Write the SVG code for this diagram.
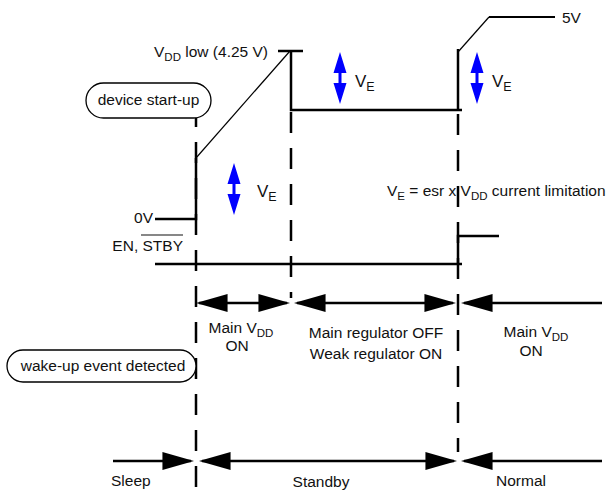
<svg xmlns="http://www.w3.org/2000/svg" width="613" height="493" viewBox="0 0 613 493">
<style>
text{font-family:"Liberation Sans",Arial,sans-serif;font-size:15.5px;fill:#111}
.sub{font-size:11.5px}
.ve{font-size:17px}
.ve .sub{font-size:12.5px}
.thick{stroke:#000;stroke-width:2.5;fill:none}
.thin{stroke:#000;stroke-width:1.2;fill:none}
.dash{stroke:#000;stroke-width:2.5;fill:none;stroke-dasharray:21 15}
.arr{stroke:#000;stroke-width:2.5;fill:none}
.bubble{fill:#fff;stroke:#000;stroke-width:1.3}
.blue{fill:#0000ff}
</style>
<defs>
<marker id="head" markerUnits="userSpaceOnUse" markerWidth="32" markerHeight="18" viewBox="0 0 30 17" refX="27" refY="8.5" orient="auto-start-reverse">
<path d="M0,0 L30,8.5 L0,17 z" fill="#000"/>
</marker>
<path id="ve-arrow" d="M0,0 L6.5,21 L1.5,21 L1.5,31 L6.5,31 L0,52 L-6.5,31 L-1.5,31 L-1.5,21 L-6.5,21 z"/>
</defs>
<rect width="613" height="493" fill="#fff"/>

<g id="dashed-markers">
<line class="dash" x1="196" y1="106" x2="196" y2="487"/>
<line class="dash" x1="291" y1="112" x2="291" y2="298"/>
<line class="dash" x1="458" y1="114" x2="458" y2="452"/>
</g>

<g id="vdd-waveform">
<polyline class="thick" points="155,219 196,219 196,158"/>
<line class="thin" x1="196" y1="158" x2="290" y2="51"/>
<line class="thick" x1="278" y1="51" x2="303" y2="51"/>
<polyline class="thick" points="291,51 291,110 462,110"/>
<line class="thick" x1="458" y1="110" x2="458" y2="49"/>
<line class="thin" x1="458" y1="52" x2="489" y2="17"/>
<line class="thick" x1="489" y1="17" x2="555" y2="17" style="stroke-width:2"/>
</g>

<g id="en-waveform">
<line class="thick" x1="155" y1="264" x2="462" y2="264"/>
<polyline class="thick" points="458,264 458,236 499,236"/>
</g>

<g id="ve-arrows" class="blue">
<use href="#ve-arrow" x="340" y="52"/>
<use href="#ve-arrow" x="477" y="52"/>
<use href="#ve-arrow" x="234" y="163"/>
</g>

<g id="connectors">
<line class="arr" x1="199" y1="303" x2="287" y2="303" marker-start="url(#head)" marker-end="url(#head)"/>
<line class="arr" x1="297" y1="303" x2="453" y2="303" marker-start="url(#head)" marker-end="url(#head)"/>
<line class="arr" x1="464" y1="303" x2="602" y2="303" marker-start="url(#head)"/>
<line class="arr" x1="113" y1="461" x2="191" y2="461" marker-end="url(#head)"/>
<line class="arr" x1="202" y1="461" x2="454" y2="461" marker-start="url(#head)" marker-end="url(#head)"/>
<line class="arr" x1="464" y1="461" x2="602" y2="461" marker-start="url(#head)"/>
</g>

<g id="device-start-up">
<rect class="bubble" x="86" y="83" width="125" height="35" rx="17.5"/>
<text x="148.5" y="105" text-anchor="middle">device start-up</text>
</g>

<g id="wake-up-event">
<rect class="bubble" x="7" y="350" width="189" height="32" rx="16"/>
<text x="103" y="371" text-anchor="middle">wake-up event detected</text>
</g>

<g id="labels">
<text x="268" y="57" text-anchor="end">V<tspan class="sub" dy="4">DD</tspan><tspan dy="-4"> low (4.25 V)</tspan></text>
<text x="562" y="23">5V</text>
<text class="ve" x="355" y="87">V<tspan class="sub" dy="4">E</tspan></text>
<text class="ve" x="492" y="87">V<tspan class="sub" dy="4">E</tspan></text>
<text class="ve" x="257" y="197">V<tspan class="sub" dy="4">E</tspan></text>
<text x="387" y="196">V<tspan class="sub" dy="4">E</tspan><tspan dy="-4"> = esr x V</tspan><tspan class="sub" dy="4">DD</tspan><tspan dy="-4"> current limitation</tspan></text>
<text x="153" y="223" text-anchor="end">0V</text>
<text x="183" y="251" text-anchor="end">EN, STBY</text>
<line x1="141" y1="235" x2="183" y2="235" stroke="#111" stroke-width="1.2"/>
<text x="241" y="333" text-anchor="middle">Main V<tspan class="sub" dy="4">DD</tspan></text>
<text x="237" y="351" text-anchor="middle">ON</text>
<text x="376" y="338" text-anchor="middle">Main regulator OFF</text>
<text x="376" y="359" text-anchor="middle">Weak regulator ON</text>
<text x="536" y="337" text-anchor="middle">Main V<tspan class="sub" dy="4">DD</tspan></text>
<text x="531" y="356" text-anchor="middle">ON</text>
<text x="111" y="486">Sleep</text>
<text x="321" y="487" text-anchor="middle">Standby</text>
<text x="521" y="486" text-anchor="middle">Normal</text>
</g>
</svg>
